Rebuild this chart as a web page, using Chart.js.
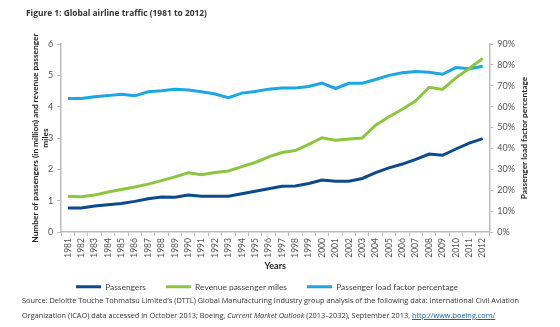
<!DOCTYPE html>
<html>
<head>
<meta charset="utf-8">
<script src="https://cdn.jsdelivr.net/npm/chart.js@4/dist/chart.umd.min.js"></script>
<style>
  html, body { margin: 0; padding: 0; background: #fff; }
  #wrap { position: relative; width: 560px; height: 327px; overflow: hidden; }
  #c { position: absolute; left: 0; top: 0; }
  #title { position: absolute; left: 26px; top: 7px; font: bold 8.4px 'Open Sans', sans-serif; color: #333; white-space: nowrap; }
  #source { position: absolute; left: 22px; top: 293px; font: 7.35px 'Open Sans', sans-serif; color: #333; line-height: 15px; white-space: nowrap; }
  #source a { color: #1a5fb4; text-decoration: underline; }
</style>
</head>
<body>
<div id="wrap">
  <canvas id="c" width="560" height="327"></canvas>
  <div id="title">Figure 1: Global airline traffic (1981 to 2012)</div>
  <div id="source">Source: Deloitte Touche Tohmatsu Limited's (DTTL) Global Manufacturing Industry group analysis of the following data: International Civil Aviation<br>Organization (ICAO) data accessed in October 2013; Boeing, <i>Current Market Outlook</i> (2013–2032), September 2013, <a>http://www.boeing.com/</a></div>
</div>
<script>
const years = ['1981','1982','1983','1984','1985','1986','1987','1988','1989','1990','1991','1992','1993','1994','1995','1996','1997','1998','1999','2000','2001','2002','2003','2004','2005','2006','2007','2008','2009','2010','2011','2012'];
const passengers = [0.77,0.77,0.83,0.87,0.91,0.98,1.06,1.12,1.11,1.18,1.14,1.14,1.14,1.22,1.30,1.38,1.46,1.47,1.55,1.66,1.62,1.62,1.71,1.90,2.05,2.17,2.32,2.49,2.45,2.65,2.84,2.98];
const revenueMiles = [1.14,1.13,1.18,1.28,1.36,1.44,1.53,1.64,1.76,1.89,1.83,1.90,1.95,2.09,2.22,2.40,2.54,2.60,2.80,3.01,2.93,2.97,3.00,3.41,3.68,3.92,4.19,4.62,4.55,4.92,5.22,5.54];
const loadFactor = [63.9,63.9,64.8,65.3,66.0,65.2,67.1,67.6,68.3,68.0,67.1,66.1,64.3,66.5,67.3,68.4,68.9,68.9,69.7,71.3,68.7,71.2,71.2,73.0,75.0,76.2,76.8,76.5,75.5,78.7,78.2,79.4];
const leftTicks = [0,1,2,3,4,5,6];
const rightTicks = [0,10,20,30,40,50,60,70,80,90];

const FONT = "Lato, sans-serif";
const C_DARK = '#0b4a8d';
const C_GREEN = '#8cc63f';
const C_LIGHT = '#1ba7e1';

const rightTitle = {
  id: 'rightTitle',
  afterDraw(chart) {
    const ctx = chart.ctx, a = chart.chartArea;
    ctx.save();
    ctx.translate(a.right + 35, (a.top + a.bottom) / 2);
    ctx.rotate(-Math.PI / 2);
    ctx.font = "bold 8.3px " + FONT;
    ctx.fillStyle = '#222';
    ctx.textAlign = 'center';
    ctx.textBaseline = 'middle';
    ctx.fillText('Passenger load factor percentage', 0, 0);
    ctx.restore();
  }
};
// legend: keep wide spacing between items but let it overlap the axis box a bit
const legendTweak = {
  id: 'legendTweak',
  beforeLayout(chart) {
    const lg = chart.legend;
    if (lg && !lg._tweaked) {
      const f = lg.fit;
      lg.fit = function () { f.call(this); this._fullH = this.height; this.height = Math.max(0, this.height - 16); };
      lg._tweaked = true;
    }
  },
  afterLayout(chart) {
    const lg = chart.legend;
    if (lg) {
      lg.left -= 5; lg.right -= 5;
      lg.top -= 9;
      lg.height = lg._fullH || lg.height;
      lg.bottom = lg.top + lg.height;
    }
  }
};

new Chart(document.getElementById('c'), {
  type: 'line',
  data: {
    labels: years,
    datasets: [
      { label: 'Passengers', data: passengers, yAxisID: 'y', borderColor: C_DARK, backgroundColor: C_DARK, borderWidth: 3, pointRadius: 0, tension: 0 },
      { label: 'Revenue passenger miles', data: revenueMiles, yAxisID: 'y', borderColor: C_GREEN, backgroundColor: C_GREEN, borderWidth: 3, pointRadius: 0, tension: 0 },
      { label: 'Passenger load factor percentage', data: loadFactor, yAxisID: 'y1', borderColor: C_LIGHT, backgroundColor: C_LIGHT, borderWidth: 3, pointRadius: 0, tension: 0 }
    ]
  },
  options: {
    responsive: false,
    animation: false,
    layout: { padding: { left: 25, right: 41, top: 44, bottom: 33 } },
    plugins: {
      title: { display: false },
      tooltip: { enabled: false },
      legend: {
        position: 'bottom',
        labels: {
          boxWidth: 25, boxHeight: 3, padding: 20,
          font: { family: FONT, size: 8.4 }, color: '#444',
          generateLabels(chart) {
            const items = Chart.defaults.plugins.legend.labels.generateLabels(chart);
            items.forEach(i => { i.lineWidth = 0; });
            return items;
          }
        }
      }
    },
    scales: {
      x: {
        type: 'category',
        offset: true,
        grid: { offset: true, drawOnChartArea: false, tickLength: 4, color: '#bbb' },
        border: { color: '#bbb', width: 1.5 },
        ticks: { minRotation: 90, maxRotation: 90, autoSkip: false, padding: 2, color: '#555', font: { family: FONT, size: 8.5 } },
        title: { display: true, text: 'Years', color: '#222', font: { family: FONT, size: 9, weight: 'bold' }, padding: { top: 1, bottom: 0 } }
      },
      y: {
        position: 'left',
        min: 0, max: 6,
        afterBuildTicks(s) { s.ticks = leftTicks.map(v => ({ value: v })); },
        grid: { drawOnChartArea: false, tickLength: 4, color: '#bbb' },
        border: { color: '#bbb', width: 1.5 },
        ticks: { padding: 4, color: '#555', font: { family: FONT, size: 9 } },
        title: { display: true, text: ['Number of passengers (in million) and revenue passenger', 'miles'], color: '#222', font: { family: FONT, size: 8.3, weight: 'bold' }, padding: { top: 5, bottom: -6 } }
      },
      y1: {
        position: 'right',
        min: 0, max: 90,
        afterBuildTicks(s) { s.ticks = rightTicks.map(v => ({ value: v })); },
        grid: { drawOnChartArea: false, tickLength: 4, color: '#bbb' },
        border: { color: '#bbb', width: 1.5 },
        ticks: { padding: 4, color: '#555', font: { family: FONT, size: 9 }, callback: v => v + '%' }
      }
    }
  },
  plugins: [rightTitle, legendTweak]
});
</script>
</body>
</html>
